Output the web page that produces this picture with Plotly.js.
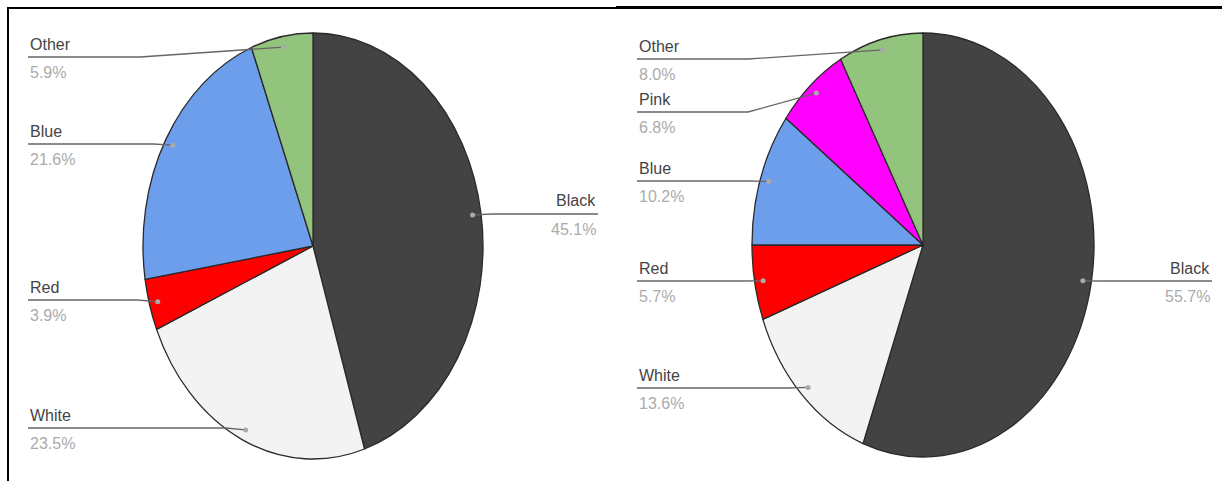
<!DOCTYPE html>
<html>
<head>
<meta charset="utf-8">
<script src="https://cdn.plot.ly/plotly-3.0.1.min.js"></script>
<style>
  html, body { margin:0; padding:0; background:#fff; }
  #wrap { position:relative; width:1222px; height:481px; overflow:hidden; }
  #chart { position:absolute; left:0; top:0; width:1222px; height:481px; }
  .frameL { position:absolute; left:7px; top:7px; width:620px; height:480px; border-left:2px solid #000; border-top:2px solid #000; pointer-events:none; }
  .frameR { position:absolute; left:616px; top:6px; width:620px; height:0; border-top:3px solid #000; pointer-events:none; }
</style>
</head>
<body>
<div id="wrap">
  <div id="chart"></div>
  <div class="frameL"></div>
  <div class="frameR"></div>
</div>
<script>
// ---- data ----
const leftLabels  = ['Black', 'White', 'Red', 'Blue', 'Other'];
const leftValues  = [45.1, 23.5, 3.9, 21.6, 5.9];
const rightLabels = ['Black', 'White', 'Red', 'Blue', 'Pink', 'Other'];
const rightValues = [55.7, 13.6, 5.7, 10.2, 6.8, 8.0];

// ---- style ----
const colorMap = { Black:'#434343', White:'#f3f3f3', Red:'#ff0000', Blue:'#6d9eeb', Pink:'#ff00ff', Other:'#93c47d' };
const W = 1222, H = 481;

// geometry of the (elliptic) pies, in pixels
const pies = [
  { labels:leftLabels,  values:leftValues,  cx:313, cy:246, rx:170, ry:213,
    leftX:28, rightX:598, bendX:140,
    lineY:{ Black:214, White:428, Red:300, Blue:144, Other:57 } },
  { labels:rightLabels, values:rightValues, cx:923, cy:245, rx:171, ry:212,
    leftX:637, rightX:1212, bendX:748,
    lineY:{ Black:281, White:388, Red:281, Blue:181, Pink:112, Other:59 } }
];

const px = x => x / W;
const py = y => 1 - y / H;

const traces = [];
const shapes = [];
const annotations = [];

pies.forEach(p => {
  traces.push({
    type:'pie', labels:p.labels, values:p.values, sort:false,
    direction:'clockwise', rotation:0, textinfo:'none', hoverinfo:'label+percent',
    marker:{ colors:p.labels.map(l => colorMap[l]), line:{ color:'#2a2a2a', width:1.3 } },
    domain:{ x:[px(p.cx - p.rx), px(p.cx + p.rx)], y:[py(p.cy + p.rx), py(p.cy - p.rx)] },
    showlegend:false
  });

  const total = p.values.reduce((a,b) => a + b, 0);
  let cum = 0;
  p.values.forEach((v, i) => {
    const name = p.labels[i];
    const th = 2 * Math.PI * (cum + v / 2) / total;
    cum += v;
    const dx = p.cx + 0.95 * p.rx * Math.sin(th);
    const dy = p.cy - 0.95 * p.ry * Math.cos(th);
    const ly = p.lineY[name];
    const right = Math.sin(th) > 0;
    let path;
    if (right) {
      path = `M ${px(dx)} ${py(dy)} L ${px(dx + 20)} ${py(ly)} L ${px(p.rightX)} ${py(ly)}`;
    } else {
      const bx = Math.abs(dy - ly) < 3 ? dx - 20 : p.bendX;
      path = `M ${px(p.leftX)} ${py(ly)} L ${px(bx)} ${py(ly)} L ${px(dx)} ${py(dy)}`;
    }
    shapes.push({ type:'path', xref:'paper', yref:'paper', layer:'above', path:path,
                  line:{ color:'#666666', width:1.3 } });
    shapes.push({ type:'circle', xref:'paper', yref:'paper', layer:'above',
                  x0:px(dx - 2.5), x1:px(dx + 2.5), y0:py(dy + 2.5), y1:py(dy - 2.5),
                  fillcolor:'#aaaaaa', line:{ color:'#aaaaaa', width:0 } });
    const tx = right ? p.rightX : p.leftX;
    const xa = right ? 'right' : 'left';
    annotations.push({ xref:'paper', yref:'paper', x:px(tx), y:py(ly - 13), xanchor:xa, yanchor:'middle',
                       text:name, showarrow:false, font:{ family:'Arial, Liberation Sans', size:16, color:'#444444' } });
    annotations.push({ xref:'paper', yref:'paper', x:px(tx), y:py(ly + 15), xanchor:xa, yanchor:'middle',
                       text:(v / total * 100).toFixed(1) + '%', showarrow:false,
                       font:{ family:'Arial, Liberation Sans', size:16, color:'#ababab' } });
  });
});

const layout = {
  width:W, height:H, margin:{ l:0, r:0, t:0, b:0, pad:0 },
  paper_bgcolor:'#ffffff', plot_bgcolor:'#ffffff', showlegend:false,
  shapes:shapes, annotations:annotations
};

Plotly.newPlot('chart', traces, layout, { displayModeBar:false, staticPlot:true }).then(gd => {
  const groups = gd.querySelectorAll('.pielayer .trace');
  groups.forEach((g, i) => {
    const p = pies[i];
    const s = p.ry / p.rx;
    const old = g.getAttribute('transform') || '';
    g.setAttribute('transform', `translate(0,${p.cy}) scale(1,${s}) translate(0,${-p.cy}) ${old}`);
    g.querySelectorAll('path').forEach(el => el.style.vectorEffect = 'non-scaling-stroke');
  });
});
</script>
</body>
</html>
